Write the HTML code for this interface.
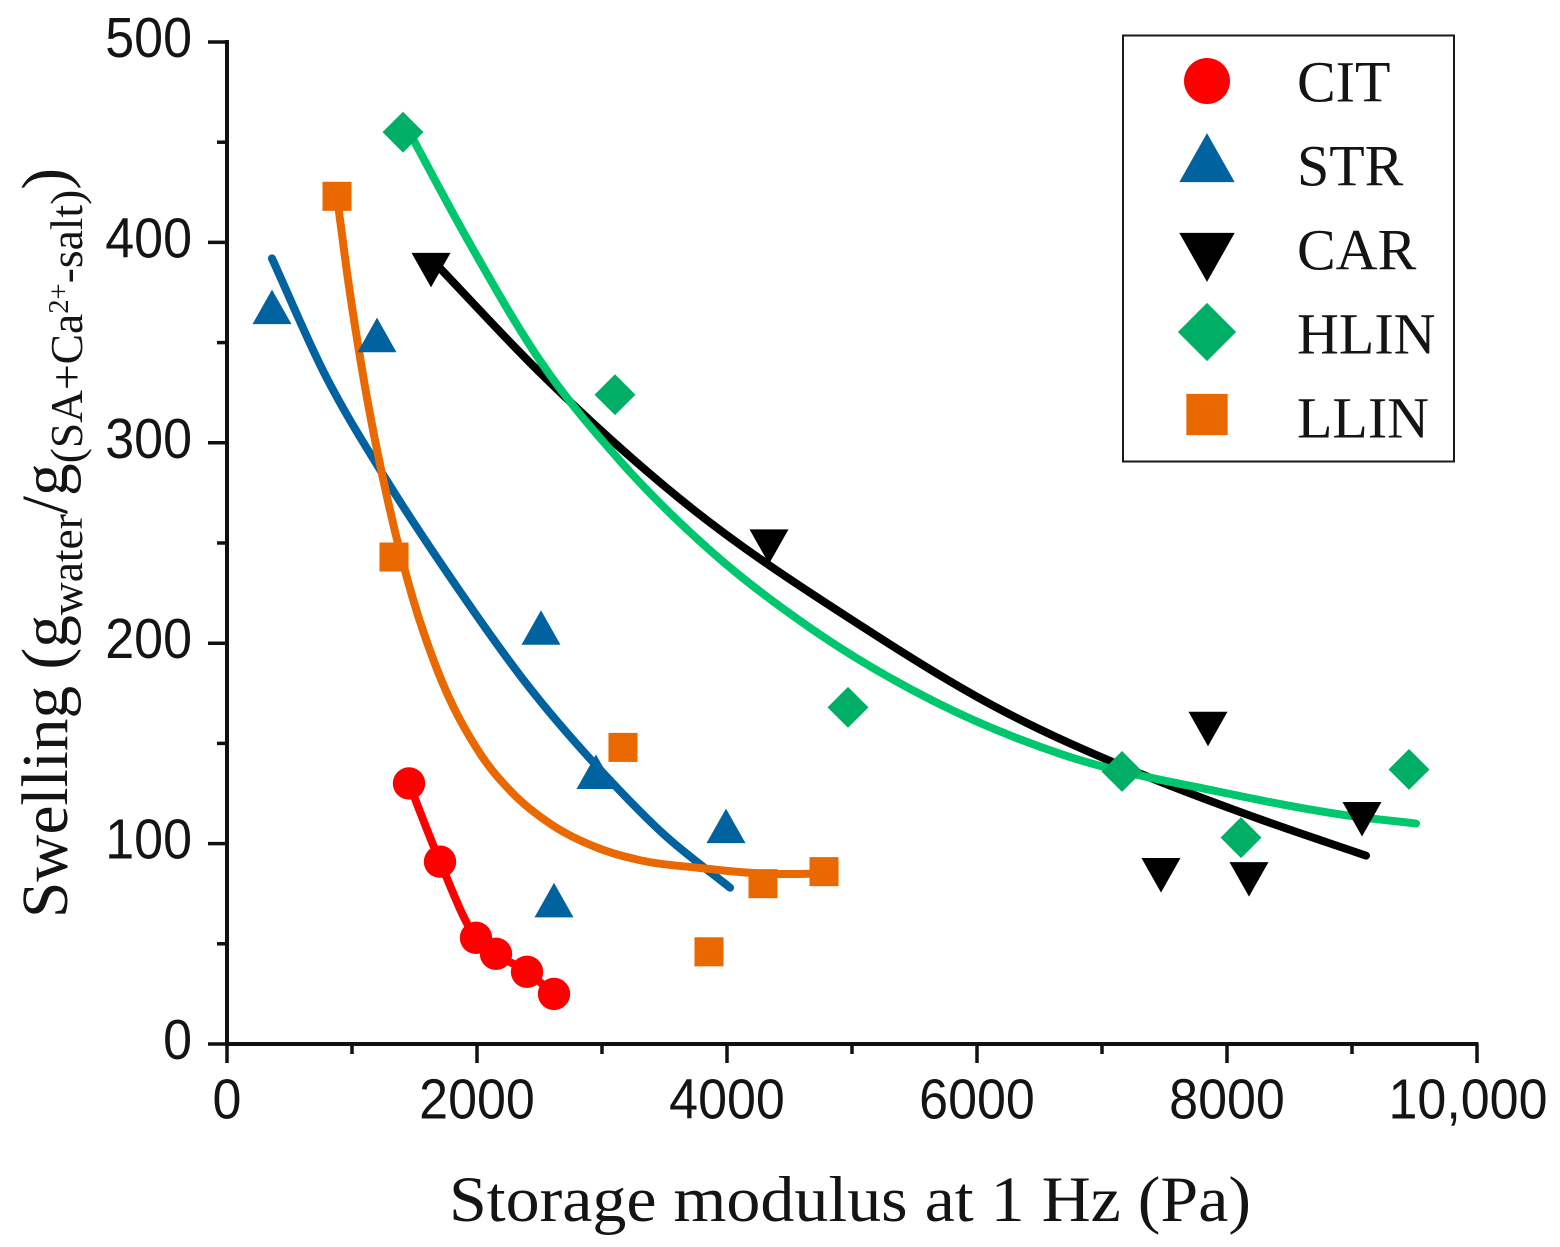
<!DOCTYPE html>
<html lang="en">
<head>
<meta charset="utf-8">
<title>Swelling vs storage modulus</title>
<style>
html,body{margin:0;padding:0;background:#fff;}
svg{display:block;}
.tick{font-family:"Liberation Sans",sans-serif;font-size:52px;fill:#141414;}
.serif{font-family:"Liberation Serif",serif;fill:#141414;}
</style>
</head>
<body>
<svg id="chart" xmlns="http://www.w3.org/2000/svg" width="1560" height="1247" viewBox="0 0 1560 1247">
  <g id="curves"></g>
  <g id="marks"></g>
  <g id="axes"></g>
  <text class="serif" x="449" y="1221" font-size="65" textLength="802" lengthAdjust="spacingAndGlyphs">Storage modulus at 1 Hz (Pa)</text>
  <text class="serif" transform="translate(67,918) rotate(-90)" font-size="66" textLength="750" lengthAdjust="spacingAndGlyphs">Swelling (g<tspan font-size="46" dy="15">water</tspan><tspan dy="-15">/g</tspan><tspan font-size="46" dy="15">(SA+Ca</tspan><tspan font-size="29" dy="-14">2+</tspan><tspan font-size="46" dy="14">-salt)</tspan><tspan dy="-15">)</tspan></text>
  <g id="legend">
    <rect x="1123" y="35.5" width="331" height="426" fill="#fff" stroke="#1a1a1a" stroke-width="2"></rect>
  </g>
</svg>
<script>
const NS = 'http://www.w3.org/2000/svg';

const xTickLabels = ['0', '2000', '4000', '6000', '8000', '10,000'];
const xTickValues = [0, 2000, 4000, 6000, 8000, 10000];
const xMinorValues = [1000, 3000, 5000, 7000, 9000];
const yTickValues = [0, 100, 200, 300, 400, 500];
const yMinorValues = [50, 150, 250, 350, 450];

const seriesNames = ['CIT', 'STR', 'CAR', 'HLIN', 'LLIN'];
const seriesColors = ['#fe0000', '#00629f', '#000000', '#00ae66', '#e96800'];
const curveColors = ['#fe0000', '#00629f', '#000000', '#00c76d', '#e96800'];
const seriesShapes = ['circle', 'up', 'down', 'diamond', 'square'];

const citX = [1456, 1704, 1992, 2152, 2400, 2616];
const citY = [130, 91, 53, 45, 36, 25];
const strX = [360, 1200, 2512, 2952, 3992, 2616];
const strY = [367, 353, 207, 135, 108, 71];
const carX = [1632, 4336, 7848, 7472, 8176, 9080];
const carY = [387, 249, 158, 85, 83, 113];
const hlinX = [1408, 3104, 4968, 7160, 8112, 9456];
const hlinY = [455, 324, 168, 136, 103, 137];
const llinX = [880, 1336, 3168, 3856, 4288, 4776];
const llinY = [423, 243, 148, 46, 80, 86];

const citCurveX = [1456, 1704, 1992, 2152, 2400, 2616];
const citCurveY = [130, 91, 53, 45, 36, 25];
const strCurveX = [360, 768, 1280, 1840, 2368, 3088, 3488, 4024];
const strCurveY = [392, 336, 281, 228, 182, 130, 105, 78];
const carCurveX = [1660, 2504, 3624, 5064, 6184, 7264, 8272, 9112];
const carCurveY = [390, 335, 272, 209, 167, 136, 112, 94];
const hlinCurveX = [1424, 1928, 2504, 3144, 3888, 4680, 5656, 6704, 7928, 8968, 9512];
const hlinCurveY = [459, 401, 341, 291, 245, 207, 171, 144, 126, 114, 110];
const llinCurveX = [880, 960, 1104, 1280, 1488, 1680, 2024, 2288, 2608, 2960, 3360, 3760, 4288, 4768];
const llinCurveY = [423, 385, 328, 273, 222, 187, 145, 125, 109, 98, 91, 88, 85, 85];

const pointsX = [citX, strX, carX, hlinX, llinX];
const pointsY = [citY, strY, carY, hlinY, llinY];
const curvesX = [citCurveX, strCurveX, carCurveX, hlinCurveX, llinCurveX];
const curvesY = [citCurveY, strCurveY, carCurveY, hlinCurveY, llinCurveY];

const X0 = 227, X1 = 1477, XMAX = 10000;
const Y0 = 1044, Y1 = 42, YMAX = 500;
const legendRowCenters = [81, 160, 255, 332, 414.5];
function sx(v) { return X0 + (v / XMAX) * (X1 - X0); }
function sy(v) { return Y0 - (v / YMAX) * (Y0 - Y1); }

function mk(tag, attrs, parent) {
  const el = document.createElementNS(NS, tag);
  for (const k in attrs) el.setAttribute(k, attrs[k]);
  parent.appendChild(el);
  return el;
}

function smoothPath(xs, ys) {
  const p = xs.map((v, i) => [sx(v), sy(ys[i])]);
  const n = p.length;
  const h = [], d = [], m = [];
  for (let i = 0; i < n - 1; i++) {
    h.push(p[i + 1][0] - p[i][0]);
    d.push((p[i + 1][1] - p[i][1]) / h[i]);
  }
  m[0] = d[0];
  m[n - 1] = d[n - 2];
  for (let i = 1; i < n - 1; i++) {
    m[i] = (d[i - 1] * h[i] + d[i] * h[i - 1]) / (h[i - 1] + h[i]);
  }
  let path = 'M' + p[0][0] + ' ' + p[0][1];
  for (let i = 0; i < n - 1; i++) {
    const t = h[i] / 3;
    path += 'C' + (p[i][0] + t) + ' ' + (p[i][1] + m[i] * t) + ' ' +
      (p[i + 1][0] - t) + ' ' + (p[i + 1][1] - m[i + 1] * t) + ' ' + p[i + 1][0] + ' ' + p[i + 1][1];
  }
  return path;
}

function drawShape(shape, cx, cy, s, color, parent) {
  if (shape === 'circle') {
    return mk('circle', { cx: cx, cy: cy, r: s * 0.83, fill: color }, parent);
  }
  if (shape === 'square') {
    return mk('rect', { x: cx - s * 0.745, y: cy - s * 0.745, width: s * 1.49, height: s * 1.49, fill: color }, parent);
  }
  let pts;
  if (shape === 'up') {
    pts = [[cx, cy - s * 0.97], [cx + s, cy + s * 0.8], [cx - s, cy + s * 0.8]];
  } else if (shape === 'down') {
    pts = [[cx, cy + s * 0.97], [cx + s, cy - s * 0.8], [cx - s, cy - s * 0.8]];
  } else {
    const r = s * 1.05;
    pts = [[cx, cy - r], [cx + r, cy], [cx, cy + r], [cx - r, cy]];
  }
  return mk('polygon', { points: pts.map(q => q.join(',')).join(' '), fill: color }, parent);
}

const axes = document.getElementById('axes');
const curvesG = document.getElementById('curves');
const marksG = document.getElementById('marks');
const legendG = document.getElementById('legend');

const xAxisLine = mk('line', { x1: X0, y1: Y0, x2: X1 + 1.5, y2: Y0, stroke: '#111', 'stroke-width': 4 }, axes);


const yAxisLine = mk('line', { x1: X0, y1: Y0 + 2, x2: X0, y2: Y1 - 2, stroke: '#111', 'stroke-width': 4 }, axes);



xTickValues.forEach((v, i) => {
  const t = mk('line', { x1: sx(v), y1: Y0, x2: sx(v), y2: Y0 + 19, stroke: '#111', 'stroke-width': 3.5 }, axes);
  
  
  const lab = mk('text', { transform: 'translate(' + Math.min(sx(v), 1468) + ',1118.5) scale(1,1.09)', 'text-anchor': 'middle', class: 'tick' }, axes);
  lab.textContent = xTickLabels[i];
  
  
});
xMinorValues.forEach(v => {
  const t = mk('line', { x1: sx(v), y1: Y0, x2: sx(v), y2: Y0 + 10, stroke: '#111', 'stroke-width': 3.5 }, axes);
  
  
});
yTickValues.forEach(v => {
  const t = mk('line', { x1: X0, y1: sy(v), x2: X0 - 19, y2: sy(v), stroke: '#111', 'stroke-width': 3.5 }, axes);
  
  
  const lab = mk('text', { transform: 'translate(192,' + (sy(v) + 15) + ') scale(1,1.09)', 'text-anchor': 'end', class: 'tick' }, axes);
  lab.textContent = String(v);
  
  
});
yMinorValues.forEach(v => {
  const t = mk('line', { x1: X0, y1: sy(v), x2: X0 - 10, y2: sy(v), stroke: '#111', 'stroke-width': 3.5 }, axes);
  
  
});

seriesNames.forEach((name, i) => {
  const c = mk('path', { d: smoothPath(curvesX[i], curvesY[i]), fill: 'none', stroke: curveColors[i], 'stroke-width': 8, 'stroke-linecap': 'round', 'stroke-linejoin': 'round' }, curvesG);
  
  
});

seriesNames.forEach((name, i) => {
  pointsX[i].forEach((v, j) => {
    const m = drawShape(seriesShapes[i], sx(v), sy(pointsY[i][j]), 19.5, seriesColors[i], marksG);
    
    
  });
});

seriesNames.forEach((name, i) => {
  const m = drawShape(seriesShapes[i], 1207, legendRowCenters[i], 27.7, seriesColors[i], legendG);
  
  
  const t = mk('text', { x: 1297, y: 101.5 + i * 84, class: 'serif', 'font-size': 58 }, legendG);
  t.textContent = name;
  
  
});
</script>
</body>
</html>
